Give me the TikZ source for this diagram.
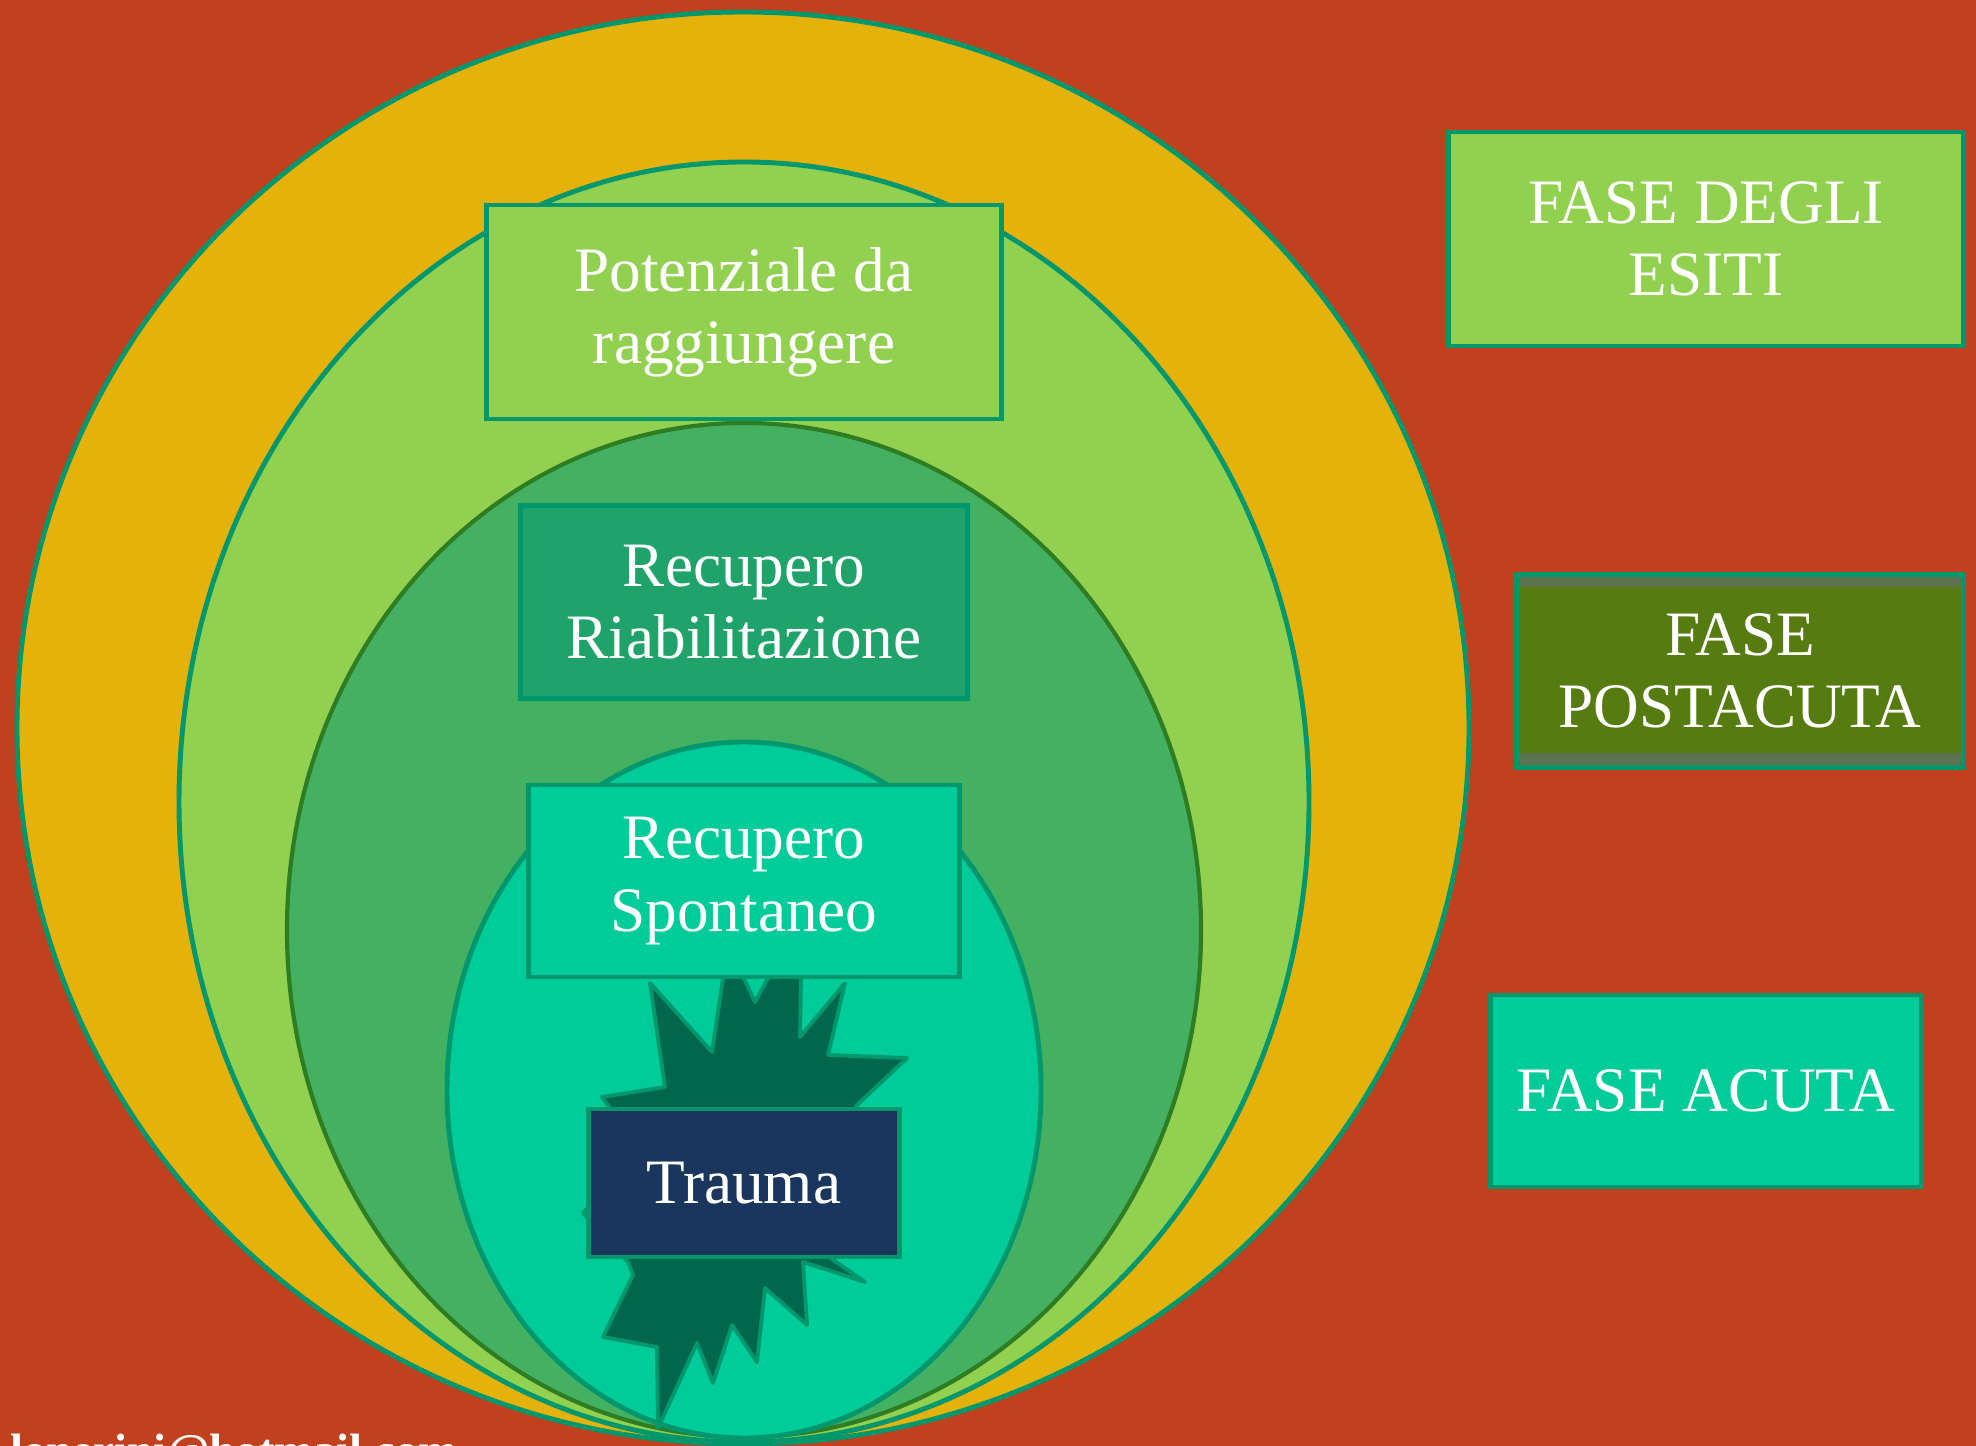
\documentclass[tikz,border=0pt]{standalone}
\usepackage{fontspec}
\setmainfont{Liberation Serif}
\usepackage{xcolor}
\usepackage{tikz}
\definecolor{backdrop}{HTML}{C1411E}
\definecolor{gold}{HTML}{E5B20B}
\definecolor{lime}{HTML}{92D050}
\definecolor{leaf}{HTML}{44B162}
\definecolor{leafdark}{HTML}{2F7D22}
\definecolor{jade}{HTML}{1FA36B}
\definecolor{mint}{HTML}{00CC99}
\definecolor{rim}{HTML}{00976D}
\definecolor{burst}{HTML}{00664C}
\definecolor{navy}{HTML}{1A365D}
\definecolor{olive}{HTML}{557B11}
\definecolor{olivegray}{HTML}{5D7350}
\tikzset{
  ring/.style={draw=rim, line width=1.4pt},
  innerring/.style={draw=leafdark, line width=1.2pt},
  phase/.style={rectangle, draw=rim, line width=1.2pt, text=white, align=center,
    font=\fontsize{18}{20.5}\selectfont},
  bigbox/.style={minimum width=51.5mm, minimum height=21.4mm},
  midbox/.style={minimum width=44.7mm, minimum height=19.3mm},
  smallbox/.style={minimum width=43.1mm, minimum height=19.2mm},
  traumabox/.style={minimum width=31.1mm, minimum height=14.8mm},
  burstline/.style={draw=rim, fill=burst, line width=1.1pt, line join=round},
  mail/.style={text=white, font=\fontsize{13.3}{14}\selectfont\bfseries},
}

\begin{document}
\begin{tikzpicture}[x=0.1mm, y=-0.1mm]
  \useasboundingbox (0,0) rectangle (1976,1446);
  \clip (0,0) rectangle (1976,1446);
  \fill[backdrop] (0,0) rectangle (1976,1446);
  \draw[ring, fill=gold] (743,728) ellipse [x radius=726, y radius=716];
  \draw[ring, fill=lime] (744,802) ellipse [x radius=565, y radius=640];
  \draw[innerring, fill=leaf] (744,930) ellipse [x radius=457, y radius=507];
  \draw[ring, fill=mint] (744,1090) ellipse [x radius=297, y radius=348];
  \draw[burstline] (650,983) -- (712,1052) -- (728,945) -- (755,1002) -- (802,916)
    -- (800,1037) -- (845,983) -- (828,1055) -- (907,1058) -- (857,1105) -- (830,1150)
    -- (790,1230) -- (865,1282) -- (803,1262) -- (807,1325) -- (765,1288) -- (757,1362)
    -- (732,1325) -- (713,1383) -- (697,1343) -- (658,1428) -- (657,1347) -- (603,1337)
    -- (633,1275) -- (628,1262) -- (583,1213) -- (640,1150) -- (602,1097) -- (665,1087)
    -- cycle;
  \node[phase, bigbox, fill=lime] (pot) at (744,312) {Potenziale da\\raggiungere};
  \node[phase, midbox, fill=jade] (riab) at (744,602) {Recupero\\Riabilitazione};
  \node[phase, smallbox, fill=mint] (spont) at (744,881) {Recupero\\Spontaneo};
  \node[phase, traumabox, fill=navy] (trauma) at (744,1183) {Trauma};
  \node[phase, bigbox, fill=lime] (esiti) at (1706,239) {FASE DEGLI\\ESITI};
  \node[phase, midbox, fill=olivegray, path picture={
      \fill[olive] ([yshift=-1.3mm]path picture bounding box.north west)
        rectangle ([yshift=1.4mm]path picture bounding box.south east);}]
    (post) at (1740,671) {FASE\\POSTACUTA};
  \node[phase, smallbox, fill=mint] (acuta) at (1706,1091) {FASE ACUTA};
  \node[mail, anchor=base west] (email) at (-2,1466) {lonerini@hotmail.com};
\end{tikzpicture}
\end{document}
